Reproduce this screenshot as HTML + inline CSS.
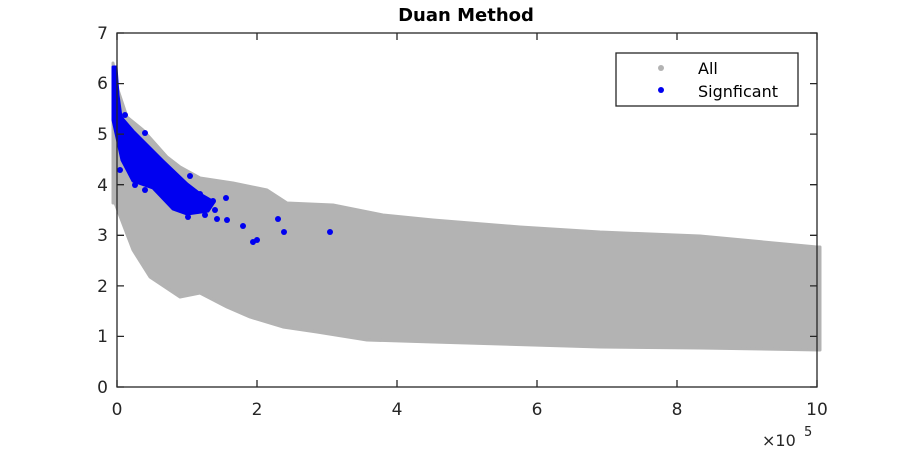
<!DOCTYPE html>
<html><head><style>body{margin:0;background:#fff}svg{display:block}</style></head><body>
<svg width="900" height="450" xmlns="http://www.w3.org/2000/svg" font-family="DejaVu Sans, Liberation Sans, sans-serif">
<rect width="900" height="450" fill="#fff"/>
<polygon fill="#b3b3b3" stroke="#b3b3b3" stroke-width="3" stroke-linejoin="round" points="113,63 118,90 127,117 143,130 167,157 180,167 200,178 233,183 267,190 287,203 333,205 383,215 433,220 520,227 600,232 700,236 817,247 820,247 820,350 700,348 600,347 433,342 367,340 317,332 283,327 250,317 227,307 200,293 180,297 150,277 133,250 115,203 113,203"/>
<g fill="#0000f0" stroke="#0000f0">
<polygon stroke-width="3" stroke-linejoin="round" points="113,67 116,67 118,95 121,117 133,131 163,161 187,184 200,194 214,202 208,211 187,214 173,209 153,188 133,181 122,160 113,120"/>
<g stroke="none">
<circle cx="226" cy="198" r="3"/><circle cx="217" cy="219" r="3"/><circle cx="227" cy="220" r="3"/><circle cx="243" cy="226" r="3"/><circle cx="253" cy="242" r="3"/><circle cx="257" cy="240" r="3"/><circle cx="278" cy="219" r="3"/><circle cx="284" cy="232" r="3"/><circle cx="330" cy="232" r="3"/><circle cx="170" cy="173" r="3"/><circle cx="200" cy="194" r="3"/><circle cx="197" cy="211" r="3"/><circle cx="215" cy="210" r="3"/><circle cx="213" cy="201" r="3"/><circle cx="135" cy="185" r="3"/><circle cx="160" cy="163" r="3"/><circle cx="178" cy="198" r="3"/><circle cx="125" cy="115" r="3"/><circle cx="145" cy="133" r="3"/><circle cx="190" cy="176" r="3"/><circle cx="120" cy="170" r="3"/><circle cx="145" cy="190" r="3"/><circle cx="188" cy="217" r="3"/><circle cx="205" cy="215" r="3"/>
</g></g>
<g stroke="#262626" stroke-width="1.3" fill="none">
<rect x="117" y="33" width="700" height="354"/>
<path d="M117,387v-7M257,387v-7M397,387v-7M537,387v-7M677,387v-7M817,387v-7M117,33v7M257,33v7M397,33v7M537,33v7M677,33v7M817,33v7"/>
<path d="M117,387h7M117,336.4h7M117,285.9h7M117,235.3h7M117,184.7h7M117,134.1h7M117,83.6h7M117,33h7M817,387h-7M817,336.4h-7M817,285.9h-7M817,235.3h-7M817,184.7h-7M817,134.1h-7M817,83.6h-7M817,33h-7"/>
</g>
<g fill="#262626" font-size="17" text-anchor="middle">
<text x="117" y="415">0</text><text x="257" y="415">2</text><text x="397" y="415">4</text><text x="537" y="415">6</text><text x="677" y="415">8</text><text x="817" y="415">10</text>
</g>
<g fill="#262626" font-size="17" text-anchor="end">
<text x="108" y="393">0</text><text x="108" y="342">1</text><text x="108" y="292">2</text><text x="108" y="241">3</text><text x="108" y="191">4</text><text x="108" y="140">5</text><text x="108" y="89">6</text><text x="108" y="39">7</text>
</g>
<text x="762" y="446" fill="#262626" font-size="16">×10</text><text x="804" y="436" fill="#262626" font-size="13">5</text>
<text x="466" y="21" text-anchor="middle" font-weight="bold" font-size="18" fill="#000">Duan Method</text>
<rect x="616" y="53" width="182" height="53" fill="#fff" stroke="#262626" stroke-width="1.3"/>
<circle cx="661" cy="68" r="3" fill="#b3b3b3"/><circle cx="661" cy="90" r="3" fill="#0000f0"/>
<text x="698" y="74" font-size="16" fill="#000">All</text>
<text x="698" y="97" font-size="16" fill="#000">Signficant</text>
</svg>
</body></html>
